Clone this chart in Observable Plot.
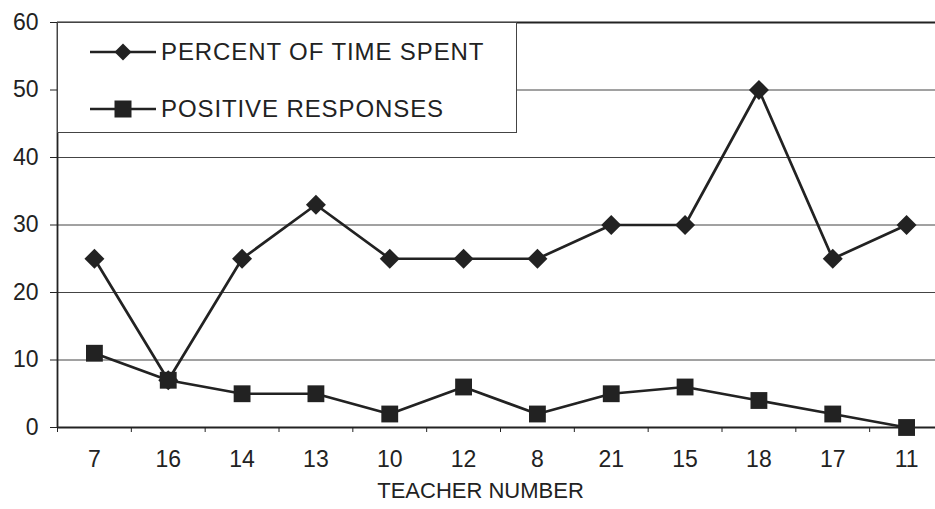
<!DOCTYPE html>
<html>
<head>
<meta charset="utf-8">
<script src="https://cdn.jsdelivr.net/npm/d3@7"></script>
<script src="https://cdn.jsdelivr.net/npm/@observablehq/plot@0.6"></script>
<style>
  html, body { margin: 0; padding: 0; background: #fff; }
  #wrap { position: relative; width: 935px; height: 509px; font-family: "Liberation Sans", Arial, sans-serif; color: #222; }
  #legend { position: absolute; left: 57px; top: 22px; width: 460px; height: 111px; background: #fff; border: 1px solid #444; box-sizing: border-box; }
  .item { position: absolute; left: 32px; display: flex; align-items: center; font-size: 24px; letter-spacing: 0.9px; }
  .item svg { margin-right: 5px; }
</style>
</head>
<body>
<div id="wrap"></div>
<script>
const teachers = ["7", "16", "14", "13", "10", "12", "8", "21", "15", "18", "17", "11"];
const percentTime = [25, 7, 25, 33, 25, 25, 25, 30, 30, 50, 25, 30];
const positiveResponses = [11, 7, 5, 5, 2, 6, 2, 5, 6, 4, 2, 0];
const seriesNames = ["PERCENT OF TIME SPENT", "POSITIVE RESPONSES"];
const yTicks = [0, 10, 20, 30, 40, 50, 60];

const idx = teachers.map((_, i) => i);
const pctData = idx.map(i => ({i, v: percentTime[i]}));
const posData = idx.map(i => ({i, v: positiveResponses[i]}));
const bounds = d3.range(-0.5, teachers.length, 1);

const ink = "#222";
const chart = Plot.plot({
  width: 935,
  height: 509,
  marginLeft: 57,
  marginRight: 0,
  marginTop: 22,
  marginBottom: 82,
  style: {fontFamily: "Liberation Sans, Arial, sans-serif", color: ink, background: "#fff"},
  x: {type: "linear", domain: [-0.5, teachers.length - 0.5], range: [57, 943]},
  y: {domain: [0, 60], range: [427, 22]},
  marks: [
    Plot.ruleY(yTicks.filter(t => t > 0 && t < 60), {stroke: "#444", strokeWidth: 1}),
    Plot.ruleY([60], {stroke: ink, strokeWidth: 1.8}),
    Plot.ruleY([0], {stroke: ink, strokeWidth: 1.8}),
    Plot.ruleX([-0.5], {stroke: ink, strokeWidth: 1.8}),
    Plot.axisY({ticks: yTicks, tickSize: 7, tickPadding: 12, fontSize: 23, label: null, stroke: ink}),
    Plot.axisX({ticks: bounds, tickSize: 5, tickFormat: () => "", label: null, stroke: ink}),
    Plot.axisX({ticks: idx, tickSize: 0, tickPadding: 23, fontSize: 23, tickFormat: i => teachers[i], label: null}),
    Plot.text(["TEACHER NUMBER"], {frameAnchor: "bottom", dx: -16, dy: 70, fontSize: 22, fill: ink}),
    Plot.line(pctData, {x: "i", y: "v", stroke: ink, strokeWidth: 2.7}),
    Plot.dot(pctData, {x: "i", y: "v", symbol: "diamond2", r: 9, fill: ink, stroke: "none"}),
    Plot.line(posData, {x: "i", y: "v", stroke: ink, strokeWidth: 2.7}),
    Plot.dot(posData, {x: "i", y: "v", symbol: "square", r: 9.5, fill: ink, stroke: "none"})
  ]
});
const wrap = document.getElementById("wrap");
wrap.appendChild(chart);

const legend = document.createElement("div");
legend.id = "legend";
const swatches = [
  `<svg width="66" height="20"><line x1="0" y1="10" x2="66" y2="10" stroke="${ink}" stroke-width="2.7"/><path d="M33,1.5 L41.5,10 L33,18.5 L24.5,10 Z" fill="${ink}"/></svg>`,
  `<svg width="66" height="20"><line x1="0" y1="10" x2="66" y2="10" stroke="${ink}" stroke-width="2.7"/><rect x="24.5" y="1.5" width="17" height="17" fill="${ink}"/></svg>`
];
const tops = [15, 72];
seriesNames.forEach((name, k) => {
  const item = document.createElement("div");
  item.className = "item";
  item.style.top = tops[k] + "px";
  item.innerHTML = swatches[k] + `<span>${name}</span>`;
  legend.appendChild(item);
});
wrap.appendChild(legend);
</script>
</body>
</html>
